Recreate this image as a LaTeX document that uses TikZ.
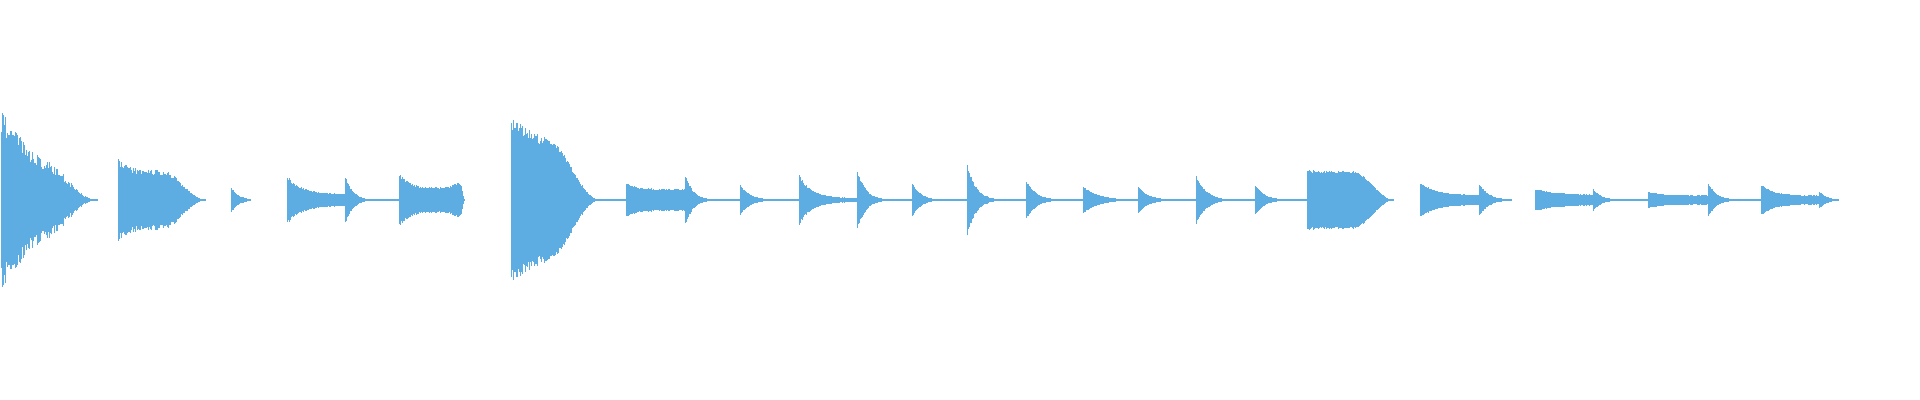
\documentclass[tikz,border=0pt]{standalone}
\usetikzlibrary{calc}

\definecolor{wavecol}{RGB}{93,172,226}
\tikzset{
  bar/.style={draw=wavecol, line width=1.15pt},
  baseline/.style={draw=wavecol, line width=1.6pt}
}

% \wave{start}{end}{attack}{decay}{sustain}{fade from}{swell}{noise}
\newcommand{\wave}[8]{%
  \pgfmathsetmacro{\xnext}{#1+0.8}
  \draw[baseline] (#1,200) -- (#2,200);
  \foreach \x in {#1,\xnext,...,#2} {
    \def\fr{1}
    \ifdim\x pt>#6pt \pgfmathsetmacro{\fr}{max(0,(#2-\x)/(#2-#6))}\fi
    \pgfmathsetmacro{\amp}{max(0.8,((#3-#5)*exp(-(\x-#1)/#4)+#5+#7*exp((\x-#2)/10))*\fr*\fr*(3-2*\fr)*(1-#8*rnd))}
    \draw[bar] (\x,200-\amp) -- (\x,200+\amp);
  }
}

\begin{document}
\begin{tikzpicture}[x=1.2245pt, y=1pt]
  \useasboundingbox (0,0) rectangle (1568,400);
  \pgfmathsetseed{7}

  % gaps that still carry the zero line
  \draw[baseline] (303,200) -- (326,200);
  \draw[baseline] (490,200) -- (1068,200);
  \draw[baseline] (1323,200) -- (1346,200);
  \draw[baseline] (1418,200) -- (1439,200);

  % first half
  \wave{1}{80}{92}{45}{0}{45}{0}{0.3}
  \wave{97}{168}{42}{8}{30}{132}{0}{0.2}
  \wave{189}{205}{13}{6}{0}{205}{0}{0.15}
  \wave{235}{282}{24}{12}{6}{282}{0}{0.15}
  \wave{282}{305}{25}{6}{0}{305}{0}{0.15}
  \wave{326}{380}{28}{8}{12}{376}{9}{0.15}
  \wave{418}{490}{82}{100}{0}{452}{0}{0.15}

  % hits on the running zero line
  \wave{512}{560}{17}{10}{11}{560}{0}{0.15}
  \wave{560}{588}{27}{6}{0}{588}{0}{0.15}
  \wave{605}{630}{15}{8}{0}{630}{0}{0.1}
  \wave{653}{700}{25}{10}{2}{700}{0}{0.15}
  \wave{700}{727}{31}{7}{0}{727}{0}{0.15}
  \wave{745}{770}{17}{7}{0}{770}{0}{0.1}
  \wave{790}{820}{36}{7}{0}{820}{0}{0.15}
  \wave{838}{868}{20}{8}{0}{868}{0}{0.1}
  \wave{885}{915}{14}{12}{0}{915}{0}{0.1}
  \wave{930}{955}{14}{8}{0}{955}{0}{0.1}
  \wave{977}{1005}{25}{8}{0}{1005}{0}{0.15}
  \wave{1025}{1050}{15}{8}{0}{1050}{0}{0.1}

  % last part
  \wave{1068}{1138}{30}{8}{29}{1105}{0}{0.08}
  \wave{1160}{1208}{18}{12}{5}{1208}{0}{0.1}
  \wave{1208}{1235}{16}{8}{0}{1235}{0}{0.1}
  \wave{1254}{1301}{11}{20}{5}{1301}{0}{0.1}
  \wave{1301}{1323}{11}{7}{0}{1323}{0}{0.1}
  \wave{1346}{1395}{8}{15}{4.5}{1395}{0}{0.1}
  \wave{1395}{1418}{17}{7}{0}{1418}{0}{0.1}
  \wave{1439}{1486}{15}{10}{4.5}{1486}{0}{0.1}
  \wave{1486}{1502}{9}{6}{0}{1502}{0}{0.1}
\end{tikzpicture}
\end{document}
